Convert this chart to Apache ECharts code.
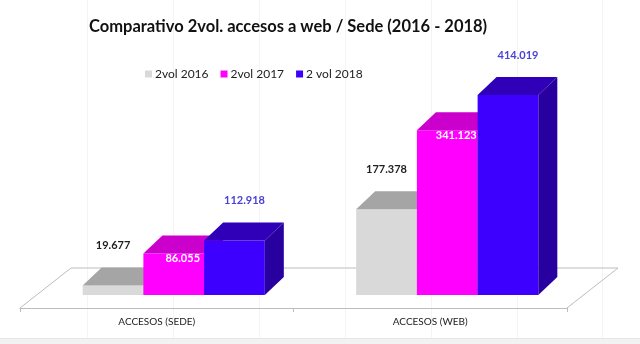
<!DOCTYPE html>
<html>
<head>
<meta charset="utf-8">
<script src="https://cdn.jsdelivr.net/npm/echarts@6/dist/echarts.min.js"></script>
<style>
  html, body { margin: 0; padding: 0; background: #fff; }
  #chart { width: 640px; height: 344px; }
</style>
</head>
<body>
<div id="chart"></div>
<script>
  // datos
  var categorias = ['ACCESOS (SEDE)', 'ACCESOS (WEB)'];
  var nombres = ['2vol 2016', '2vol 2017', '2 vol 2018'];
  var vol2016 = [19677, 177378];
  var vol2017 = [86055, 341123];
  var vol2018 = [112918, 414019];
  var etiquetas2016 = ['19.677', '177.378'];
  var etiquetas2017 = ['86.055', '341.123'];
  var etiquetas2018 = ['112.918', '414.019'];

  // colores de cada serie: frente, tapa, lateral, texto
  var estilos = [
    { front: '#d9d9d9', top: '#a5a5a5', side: '#bcbcbc', label: '#1e1e1e', inside: false, dx: 0 },
    { front: '#ff00ff', top: '#cc00cc', side: '#b000b0', label: '#ffffff', inside: true, dx: 9 },
    { front: '#3d00ff', top: '#2f00b8', side: '#2900a0', label: '#4a3fd6', inside: false, dx: 10 }
  ];

  var BAR_RATIO = 0.222;   // ancho de barra respecto a la categoria
  var DEPTH_X = 19, DEPTH_Y = 18;   // profundidad de la barra
  var SHIFT_X = 17, SHIFT_Y = 13;   // barras metidas dentro del suelo
  var FLOOR_X = 51, FLOOR_Y = 40;   // profundidad del suelo

  function barra(idx, etiquetas) {
    var st = estilos[idx];
    return function (params, api) {
      var cat = api.value(0);
      var base = api.coord([cat, 0]);
      var tope = api.coord([cat, api.value(1)]);
      var w = api.size([1, 0])[0] * BAR_RATIO;
      var x0 = base[0] + SHIFT_X + (idx - 1.5) * w;
      var x1 = x0 + w;
      var yb = base[1] - SHIFT_Y;
      var yt = tope[1] - SHIFT_Y;
      var ty = st.inside ? yt + 5 : yt - 40;
      return {
        type: 'group',
        children: [
          { type: 'polygon', shape: { points: [[x0, yt], [x1, yt], [x1, yb], [x0, yb]] }, style: { fill: st.front } },
          { type: 'polygon', shape: { points: [[x0, yt], [x1, yt], [x1 + DEPTH_X, yt - DEPTH_Y], [x0 + DEPTH_X, yt - DEPTH_Y]] }, style: { fill: st.top } },
          { type: 'polygon', shape: { points: [[x1, yt], [x1 + DEPTH_X, yt - DEPTH_Y], [x1 + DEPTH_X, yb - DEPTH_Y], [x1, yb]] }, style: { fill: st.side } },
          {
            type: 'text',
            z2: 10,
            style: {
              x: (x0 + x1) / 2 + st.dx, y: ty,
              text: etiquetas[params.dataIndex],
              fill: st.label,
              font: 'bold 11px Lato',
              align: 'center', verticalAlign: 'middle'
            }
          }
        ]
      };
    };
  }

  function suelo(params, api) {
    var c = params.coordSys;
    var yf = c.y + c.height;
    return {
      type: 'polyline',
      shape: { points: [[c.x, yf], [c.x + FLOOR_X, yf - FLOOR_Y], [c.x + c.width + FLOOR_X, yf - FLOOR_Y], [c.x + c.width, yf]] },
      style: { stroke: '#bdbdbd', lineWidth: 1, fill: null }
    };
  }

  function datos(vals) {
    return vals.map(function (v, i) { return [i, v]; });
  }

  var lineasFondo = [87, 173, 259, 345, 431, 517, 602].map(function (x) {
    return { type: 'line', z: -10, shape: { x1: x + 0.5, y1: 0, x2: x + 0.5, y2: 338 }, style: { stroke: '#f4f4f4', lineWidth: 1 } };
  });

  var myChart = echarts.init(document.getElementById('chart'));
  myChart.setOption({
    backgroundColor: '#ffffff',
    animation: false,
    title: {
      text: 'Comparativo 2vol. accesos a web / Sede (2016 - 2018)',
      left: 84,
      top: 13,
      textStyle: { fontFamily: 'Lato', fontWeight: 'bold', fontSize: 16.5, color: '#111' }
    },
    legend: {
      data: nombres,
      left: 140,
      top: 63,
      itemWidth: 7,
      itemHeight: 7,
      itemGap: 12,
      icon: 'rect',
      textStyle: { fontFamily: 'Lato', fontSize: 12, color: '#222', padding: [0, 0, 0, -2] }
    },
    graphic: lineasFondo.concat([
      { type: 'rect', z: -10, shape: { x: 0, y: 338, width: 640, height: 6 }, style: { fill: '#f2f2f2' } },
      { type: 'line', z: -10, shape: { x1: 0, y1: 338.5, x2: 640, y2: 338.5 }, style: { stroke: '#e6e6e6' } }
    ]),
    grid: { left: 20, right: 73, top: 66.5, bottom: 36 },
    xAxis: {
      type: 'category',
      data: categorias,
      axisLine: { lineStyle: { color: '#bdbdbd' } },
      axisTick: { show: true, length: 4, lineStyle: { color: '#bdbdbd' } },
      axisLabel: { fontFamily: 'Lato', fontSize: 10, color: '#222', margin: 9 },
      splitLine: { show: false }
    },
    yAxis: { type: 'value', min: 0, max: 500000, show: false },
    series: [
      { type: 'custom', name: 'suelo', renderItem: suelo, data: [[0, 0]], silent: true },
      { type: 'custom', name: nombres[0], renderItem: barra(0, etiquetas2016), data: datos(vol2016), itemStyle: { color: estilos[0].front } },
      { type: 'custom', name: nombres[1], renderItem: barra(1, etiquetas2017), data: datos(vol2017), itemStyle: { color: estilos[1].front } },
      { type: 'custom', name: nombres[2], renderItem: barra(2, etiquetas2018), data: datos(vol2018), itemStyle: { color: estilos[2].front } }
    ]
  });
</script>
</body>
</html>
